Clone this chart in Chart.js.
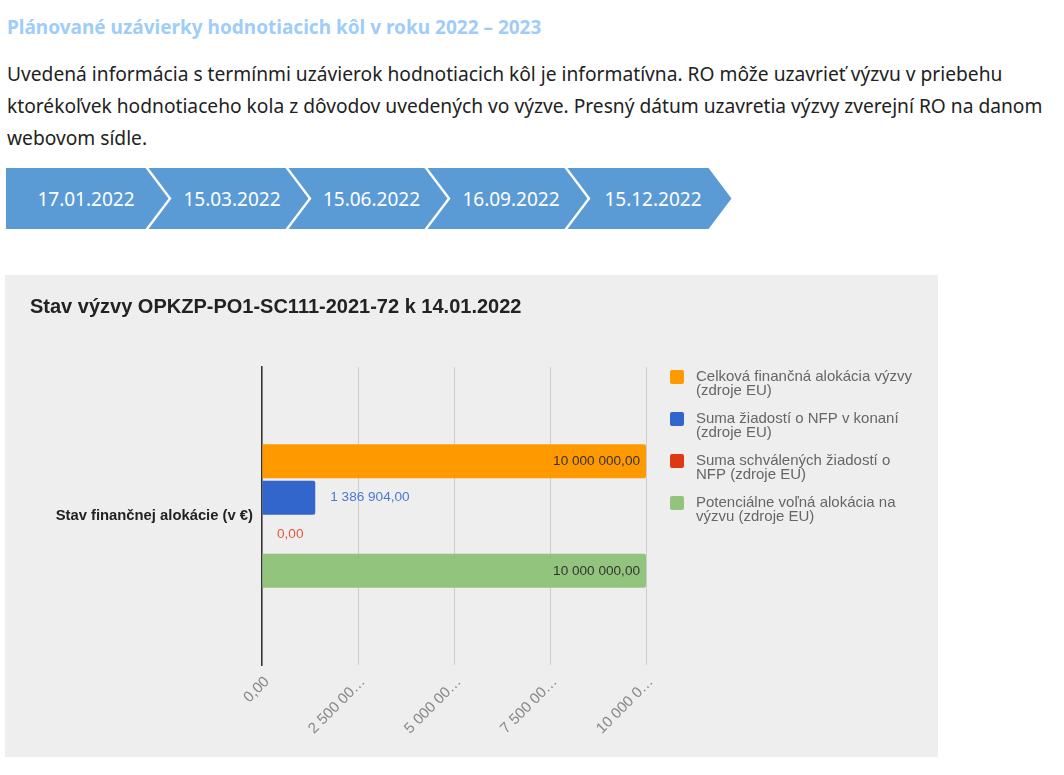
<!DOCTYPE html>
<html>
<head>
<meta charset="utf-8">
<script src="https://cdn.jsdelivr.net/npm/chart.js@4.4.0/dist/chart.umd.min.js"></script>
<style>
  body { margin: 0; background: #fff; font-family: "Noto Sans", sans-serif; }
  .nadpis { position: absolute; left: 7px; top: 14px; font-size: 19px; font-weight: bold; color: #9fcdf9; white-space: nowrap; }
  .text { position: absolute; left: 7px; top: 58px; font-size: 19.2px; line-height: 32px; color: #222; white-space: nowrap; }
  .chevron { position: absolute; top: 168px; height: 61px; background: #5b9bd5; color: #fff; font-size: 19px;
             display: flex; align-items: center; justify-content: center; box-sizing: border-box; }
  .graf { position: absolute; left: 5px; top: 275px; width: 933px; height: 482px; background: #eeeeee; }
</style>
</head>
<body>
<div class="nadpis">Plánované uzávierky hodnotiacich kôl v roku 2022 – 2023</div>
<div class="text">Uvedená informácia s termínmi uzávierok hodnotiacich kôl je informatívna. RO môže uzavrieť výzvu v priebehu<br>ktorékoľvek hodnotiaceho kola z dôvodov uvedených vo výzve. Presný dátum uzavretia výzvy zverejní RO na danom<br>webovom sídle.</div>
<div id="timeline"></div>
<div class="graf"><canvas id="graf"></canvas></div>

<script>
// termíny uzávierok (šípky nad grafom)
const terminy = ['17.01.2022', '15.03.2022', '15.06.2022', '16.09.2022', '15.12.2022'];

// graf
const kategorie = ['Stav finančnej alokácie (v €)'];
const nazvySerii = [
  ['Celková finančná alokácia výzvy', '(zdroje EU)'],
  ['Suma žiadostí o NFP v konaní', '(zdroje EU)'],
  ['Suma schválených žiadostí o', 'NFP (zdroje EU)'],
  ['Potenciálne voľná alokácia na', 'výzvu (zdroje EU)']
];
const hodnoty = [10000000, 1386904, 0, 10000000];
const farby = ['#ff9900', '#3366cc', '#dc3912', '#93c47d'];
const farbyPopisov = ['#333333', '#4a78d6', '#e0583f', '#333333'];
const xPopisky = ['0,00', '2 500 00…', '5 000 00…', '7 500 00…', '10 000 0…'];

// šípky
const tl = document.getElementById('timeline');
const zaciatky = [6, 147, 287, 426, 566];
const konce = [147, 287, 426, 566, 710];
terminy.forEach((t, i) => {
  const d = document.createElement('div');
  d.className = 'chevron';
  const left = zaciatky[i];
  const w = konce[i] - left + 23;
  const l = i === 0 ? 0 : 1.5;
  d.style.left = left + 'px';
  d.style.width = w + 'px';
  d.style.clipPath = `polygon(${l}px 0, ${w - 24.5}px 0, ${w - 1.5}px 50%, ${w - 24.5}px 100%, ${l}px 100%, ${i === 0 ? '0px 50%' : '24.5px 50%'})`;
  d.style.paddingLeft = i === 0 ? '0px' : '23px';
  d.style.paddingRight = i === 0 ? '4px' : '16px';
  d.textContent = t;
  tl.appendChild(d);
});

function formatSk(v) {
  const cele = Math.round(v).toString().replace(/\B(?=(\d{3})+(?!\d))/g, ' ');
  return cele + ',00';
}

const popisky = {
  id: 'popisky',
  afterDatasetsDraw(chart) {
    const ctx = chart.ctx;
    ctx.save();
    ctx.font = '13.6px "Liberation Sans", Arial, sans-serif';
    ctx.textBaseline = 'middle';
    chart.data.datasets.forEach((ds, i) => {
      const bar = chart.getDatasetMeta(i).data[0];
      const txt = formatSk(ds.data[0]);
      const w = ctx.measureText(txt).width;
      ctx.fillStyle = farbyPopisov[i];
      if (bar.x - bar.base > w + 14) {
        ctx.textAlign = 'right';
        ctx.fillText(txt, bar.x - 6, bar.y);
      } else {
        ctx.textAlign = 'left';
        ctx.fillText(txt, bar.x + 15, bar.y);
      }
    });
    ctx.restore();
  }
};

const legenda = {
  id: 'legenda',
  afterDraw(chart) {
    const ctx = chart.ctx;
    ctx.save();
    ctx.font = '15px "Liberation Sans", Arial, sans-serif';
    ctx.textBaseline = 'middle';
    ctx.textAlign = 'left';
    nazvySerii.forEach((riadky, i) => {
      const y = 95 + i * 42;
      ctx.fillStyle = farby[i];
      ctx.beginPath();
      ctx.roundRect(665, y, 14, 14, 2);
      ctx.fill();
      ctx.fillStyle = '#666';
      riadky.forEach((r, j) => ctx.fillText(r, 691, y + 7 + j * 14));
    });
    ctx.restore();
  }
};

new Chart(document.getElementById('graf'), {
  type: 'bar',
  data: {
    labels: kategorie,
    datasets: hodnoty.map((v, i) => ({
      label: nazvySerii[i].join(' '),
      data: [v],
      backgroundColor: farby[i],
      borderRadius: 2,
      borderSkipped: 'start',
      categoryPercentage: 0.49,
      barPercentage: 0.93
    }))
  },
  options: {
    indexAxis: 'y',
    responsive: true,
    maintainAspectRatio: false,
    animation: false,
    layout: { padding: { left: 25, right: 292, top: 0, bottom: 0 } },
    plugins: {
      legend: { display: false },
      tooltip: { enabled: false },
      title: {
        display: true,
        text: 'Stav výzvy OPKZP-PO1-SC111-2021-72 k 14.01.2022',
        align: 'start',
        color: '#222',
        font: { family: '"Liberation Sans", Arial, sans-serif', size: 20, weight: 'bold', lineHeight: 1.2 },
        padding: { top: 20, bottom: 48 }
      }
    },
    scales: {
      x: {
        min: 0,
        max: 10000000,
        ticks: {
          stepSize: 2500000,
          minRotation: 45,
          maxRotation: 45,
          padding: 8,
          labelOffset: 5,
          color: '#888',
          font: { family: '"Liberation Sans", Arial, sans-serif', size: 15 },
          callback: (v, i) => xPopisky[i]
        },
        grid: { color: '#cccccc', drawTicks: false },
        border: { display: false },
        afterFit: s => { s.height = 92; }
      },
      y: {
        ticks: {
          padding: 9,
          color: '#222',
          font: { family: '"Liberation Sans", Arial, sans-serif', size: 14.8, weight: 'bold' }
        },
        grid: { display: false, drawTicks: false },
        border: { display: true, color: '#333', width: 1.5 },
        afterFit: s => { s.width = 232; }
      }
    }
  },
  plugins: [popisky, legenda]
});
</script>
</body>
</html>
